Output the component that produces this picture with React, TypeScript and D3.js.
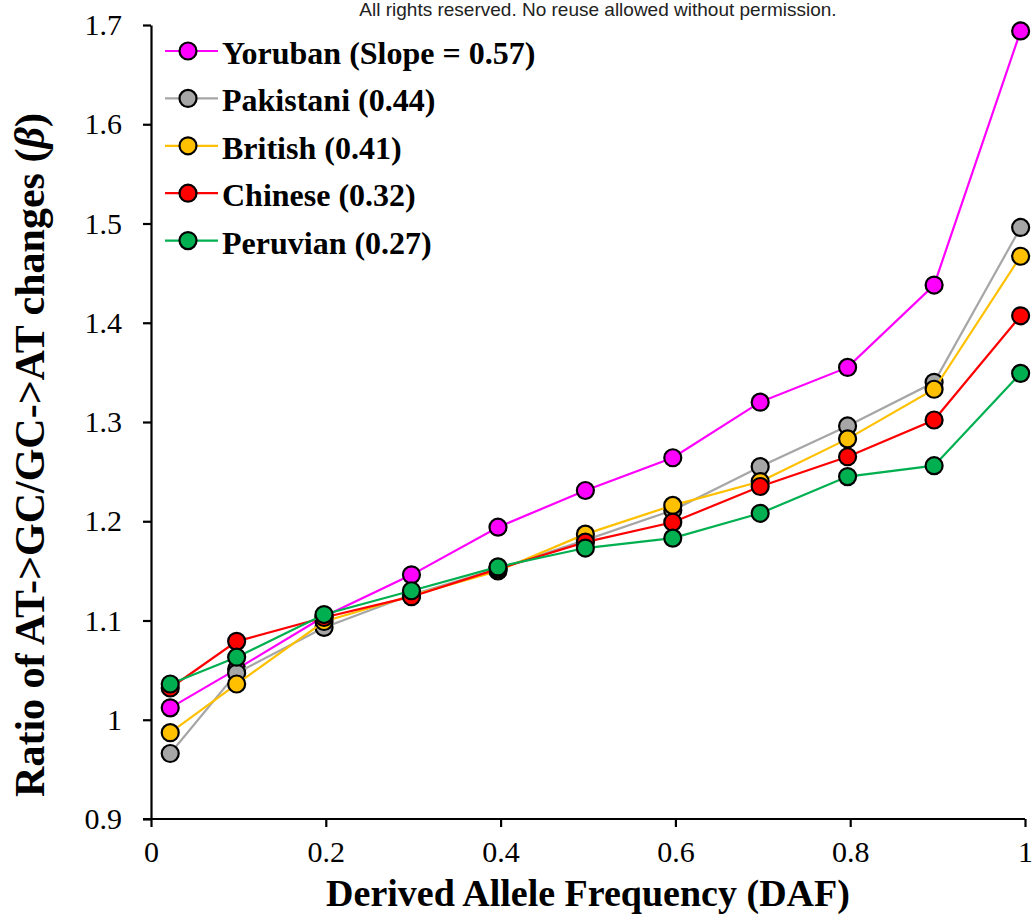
import React, { useRef, useEffect } from "react";
import * as d3 from "d3";

// derived allele frequency bins (x)
const daf = [0.022, 0.098, 0.198, 0.298, 0.397, 0.497, 0.597, 0.697, 0.797, 0.896, 0.995];

const yoruban = [1.012, 1.051, 1.104, 1.146, 1.194, 1.231, 1.264, 1.320, 1.355, 1.438, 1.694];
const pakistani = [0.966, 1.047, 1.093, 1.126, 1.152, 1.181, 1.211, 1.255, 1.296, 1.340, 1.496];
const british = [0.987, 1.036, 1.099, 1.125, 1.150, 1.187, 1.216, 1.240, 1.283, 1.333, 1.467];
const chinese = [1.032, 1.079, 1.103, 1.124, 1.152, 1.179, 1.199, 1.235, 1.265, 1.302, 1.407];
const peruvian = [1.036, 1.063, 1.106, 1.130, 1.154, 1.173, 1.183, 1.208, 1.245, 1.256, 1.349];

const seriesNames = ["Yoruban (Slope = 0.57)", "Pakistani (0.44)", "British (0.41)", "Chinese (0.32)", "Peruvian (0.27)"];
const seriesValues = [yoruban, pakistani, british, chinese, peruvian];
const seriesColors = ["#FF00FF", "#A6A6A6", "#FFC000", "#FF0000", "#00B050"];

const xTicks = [0, 0.2, 0.4, 0.6, 0.8, 1];
const yTicks = [0.9, 1, 1.1, 1.2, 1.3, 1.4, 1.5, 1.6, 1.7];

const App = () => {
  const svgRef = useRef<SVGSVGElement>(null);
  const width = 1033;
  const height = 920;

  useEffect(() => {
    const svg = d3.select(svgRef.current);
    svg.selectAll("*").remove();

    const x = d3.scaleLinear().domain([0, 1]).range([151, 1025]);
    const y = d3.scaleLinear().domain([0.9, 1.7]).range([819, 25]);
    const serif = "'Liberation Serif', 'Times New Roman', serif";

    // watermark
    svg
      .append("text")
      .attr("x", 598)
      .attr("y", 16)
      .attr("text-anchor", "middle")
      .attr("font-family", "'Liberation Sans', Arial, sans-serif")
      .attr("font-size", 19)
      .attr("fill", "#222")
      .text("All rights reserved. No reuse allowed without permission.");

    // axes
    const xAxis = svg
      .append("g")
      .attr("transform", `translate(0,${y(0.9)})`)
      .call(
        d3
          .axisBottom(x)
          .tickValues(xTicks)
          .tickSize(8)
          .tickSizeOuter(0)
          .tickPadding(14)
          .tickFormat((d) => `${d}`)
      );
    const yAxis = svg
      .append("g")
      .attr("transform", `translate(${x(0)},0)`)
      .call(
        d3
          .axisLeft(y)
          .tickValues(yTicks)
          .tickSize(8)
          .tickSizeOuter(0)
          .tickPadding(21)
          .tickFormat((d) => `${d}`)
      );
    [xAxis, yAxis].forEach((g) => {
      g.selectAll("path,line").attr("stroke", "#000").attr("stroke-width", 2.2);
      g.selectAll("text")
        .attr("fill", "#000")
        .attr("font-family", serif)
        .attr("font-size", 30);
    });
    xAxis.select(".domain").attr("d", `M${x(0) - 8},0H${x(1)}`);

    // lines and markers
    const line = d3
      .line<number>()
      .x((d, i) => x(daf[i]))
      .y((d) => y(d));

    seriesValues.forEach((vals, si) => {
      const g = svg.append("g");
      g.append("path")
        .attr("d", line(vals))
        .attr("fill", "none")
        .attr("stroke", seriesColors[si])
        .attr("stroke-width", 2.2);
      g.selectAll("circle")
        .data(vals)
        .join("circle")
        .attr("cx", (d, i) => x(daf[i]))
        .attr("cy", (d) => y(d))
        .attr("r", 8.5)
        .attr("fill", seriesColors[si])
        .attr("stroke", "#000")
        .attr("stroke-width", 2.2);
    });

    // legend
    const legend = svg.append("g");
    seriesNames.forEach((name, i) => {
      const ly = 51 + i * 47.4;
      legend
        .append("line")
        .attr("x1", 165)
        .attr("x2", 218)
        .attr("y1", ly)
        .attr("y2", ly)
        .attr("stroke", seriesColors[i])
        .attr("stroke-width", 2.2);
      legend
        .append("circle")
        .attr("cx", 188)
        .attr("cy", ly)
        .attr("r", 8.5)
        .attr("fill", seriesColors[i])
        .attr("stroke", "#000")
        .attr("stroke-width", 2.2);
      legend
        .append("text")
        .attr("x", 222)
        .attr("y", ly + 13)
        .attr("font-family", serif)
        .attr("font-weight", "bold")
        .attr("font-size", 32)
        .text(name);
    });

    // axis titles
    svg
      .append("text")
      .attr("x", 588)
      .attr("y", 906)
      .attr("text-anchor", "middle")
      .attr("font-family", serif)
      .attr("font-weight", "bold")
      .attr("font-size", 38)
      .text("Derived Allele Frequency (DAF)");

    const yTitle = svg
      .append("text")
      .attr("transform", "translate(44,455) rotate(-90)")
      .attr("text-anchor", "middle")
      .attr("font-family", serif)
      .attr("font-weight", "bold")
      .attr("font-size", 42);
    yTitle.append("tspan").text("Ratio of AT->GC/GC->AT changes (");
    yTitle.append("tspan").attr("font-style", "italic").text("β");
    yTitle.append("tspan").text(")");
  }, []);

  return (
    <div>
      <svg
        ref={svgRef}
        width={width}
        height={height}
        style={{ position: "absolute", left: 0, top: 0, background: "#fff" }}
      ></svg>
    </div>
  );
};

export default App;
